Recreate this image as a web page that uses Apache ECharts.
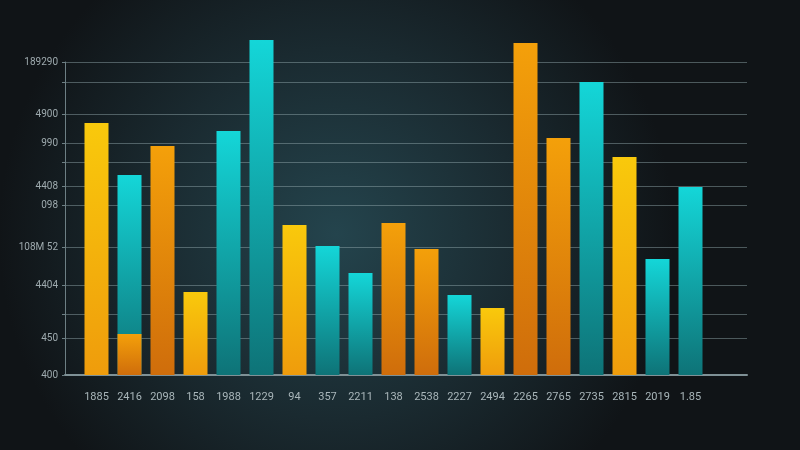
<!DOCTYPE html>
<html>
<head>
<meta charset="utf-8">
<title>Bar chart</title>
<script src="https://cdn.jsdelivr.net/npm/echarts@6/dist/echarts.min.js"></script>
<style>
    html, body { margin: 0; padding: 0; background: #121719; }
    #chart { width: 800px; height: 450px; }
</style>
</head>
<body>
<div id="chart"></div>
<script>
// bar labels along the bottom, one per bar
const categories = ['1885', '2416', '2098', '158', '1988', '1229', '94', '357', '2211', '138',
    '2538', '2227', '2494', '2265', '2765', '2735', '2815', '2019', '1.85']

// three bar families, null where a bar belongs to another family
const tealValues = [null, 200, null, null, 244, 335, null, 129, 102, null, null, 80, null, null, null, 293, null, 116, 188]
const goldValues = [252, null, null, 83, null, null, 150, null, null, null, null, null, 67, null, null, null, 218, null, null]
const amberValues = [null, 41, 229, null, null, null, null, null, null, 152, 126, null, null, 332, 237, null, null, null, null]

// y axis: gridline values and the labelled ones
const gridValues = [0, 37, 61, 90, 128, 170, 189, 213, 232, 261, 293, 313]
const tickLabels = { 0: '400', 37: '450', 90: '4404', 128: '108M 52', 170: '098', 189: '4408', 232: '990', 261: '4900', 313: '189290' }

const yMax = 335     // top of the tallest bar
const yAxisTop = 313 // the axis line stops at the top gridline

const chart = echarts.init(document.getElementById('chart'))

function vgrad(top, bottom) {
    return new echarts.graphic.LinearGradient(0, 0, 0, 1, [
        { offset: 0, color: top },
        { offset: 1, color: bottom }
    ])
}

const barBase = {
    type: 'bar',
    xAxisIndex: 1,
    yAxisIndex: 1,
    barWidth: 24,
    barGap: '-100%',
    silent: true
}

chart.setOption({
    backgroundColor: new echarts.graphic.RadialGradient(0.42, 0.52, 0.75, [
        { offset: 0, color: '#24444d' },
        { offset: 0.55, color: '#1a2a30' },
        { offset: 1, color: '#101417' }
    ]),
    animation: false,
    grid: [
        { left: 65, right: 53, top: 62, bottom: 75 },
        { left: 80, right: 93, top: 40, bottom: 75 }
    ],
    xAxis: [
        {
            type: 'value',
            gridIndex: 0,
            min: 0,
            max: 1,
            axisLine: { show: true, lineStyle: { color: '#7f9196', width: 2 } },
            axisTick: { show: false },
            axisLabel: { show: false },
            splitLine: { show: false }
        },
        {
            type: 'category',
            gridIndex: 1,
            data: categories,
            axisLine: { show: false },
            axisTick: { show: false },
            axisLabel: {
                color: '#a9b6ba',
                fontSize: 11,
                fontFamily: 'Roboto',
                margin: 17,
                interval: 0
            }
        }
    ],
    yAxis: [
        {
            type: 'value',
            gridIndex: 0,
            min: 0,
            max: yAxisTop,
            axisLine: { show: true, lineStyle: { color: '#6d7f84', width: 1 } },
            axisTick: {
                show: true,
                length: 3,
                customValues: gridValues,
                lineStyle: { color: '#6d7f84' }
            },
            axisLabel: {
                customValues: Object.keys(tickLabels).map(Number),
                formatter: v => tickLabels[v] || '',
                color: '#9eaaae',
                fontSize: 10,
                fontFamily: 'Roboto',
                margin: 7
            },
            splitLine: {
                show: true,
                lineStyle: { color: 'rgba(150, 172, 178, 0.45)', width: 1 }
            }
        },
        {
            type: 'value',
            gridIndex: 1,
            min: 0,
            max: yMax,
            show: false,
            splitLine: { show: false }
        }
    ],
    series: [
        Object.assign({}, barBase, {
            name: 'teal',
            data: tealValues,
            itemStyle: { color: vgrad('#14d6d8', '#0e7377') }
        }),
        Object.assign({}, barBase, {
            name: 'gold',
            data: goldValues,
            itemStyle: { color: vgrad('#f9c90c', '#ef9c0c') }
        }),
        Object.assign({}, barBase, {
            name: 'amber',
            data: amberValues,
            itemStyle: { color: vgrad('#f4a00a', '#cf6d0b') }
        })
    ]
})
</script>
</body>
</html>
